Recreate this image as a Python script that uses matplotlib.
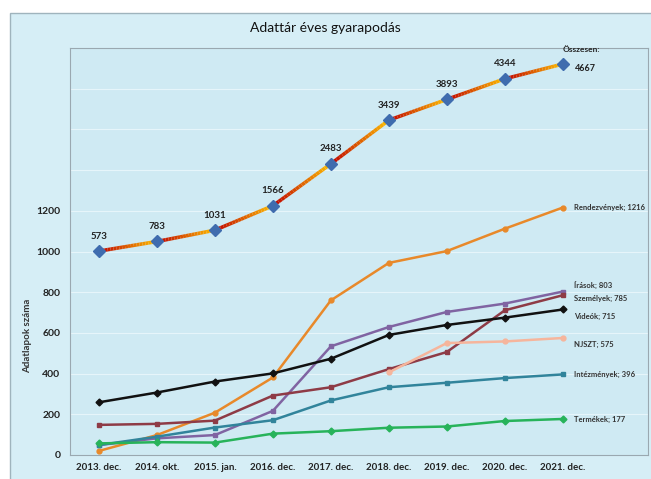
import matplotlib.pyplot as plt
import numpy as np
from matplotlib.collections import LineCollection
from matplotlib.patches import Rectangle
from matplotlib.colors import to_rgb

plt.rcParams['font.family'] = ['Lato', 'DejaVu Sans']

periods = ["2013. dec.", "2014. okt.", "2015. jan.", "2016. dec.", "2017. dec.",
           "2018. dec.", "2019. dec.", "2020. dec.", "2021. dec."]

osszesen = [573, 783, 1031, 1566, 2483, 3439, 3893, 4344, 4667]
rendezvenyek = [20, 98, 208, 381, 760, 944, 1002, 1112, 1216]
irasok = [49, 82, 98, 217, 534, 629, 703, 744, 803]
szemelyek = [148, 153, 169, 292, 333, 422, 506, 711, 785]
videok = [259, 307, 361, 401, 473, 590, 639, 675, 715]
njszt = [np.nan, np.nan, np.nan, np.nan, np.nan, 406, 550, 558, 575]
intezmenyek = [49, 90, 135, 171, 268, 333, 355, 378, 396]
termekek = [57, 63, 61, 105, 117, 134, 140, 167, 177]

series = [
    ("Rendezvények", rendezvenyek, '#e8892a', 'o'),
    ("Írások", irasok, '#8064a2', 's'),
    ("Személyek", szemelyek, '#8e3b46', 's'),
    ("Videók", videok, '#111111', 'D'),
    ("NJSZT", njszt, '#f6b59c', 'o'),
    ("Intézmények", intezmenyek, '#31849b', 's'),
    ("Termékek", termekek, '#27b35a', 'D'),
]
label_offsets = {"Írások": 5, "Személyek": -2, "Videók": -5, "NJSZT": -5}

fig = plt.figure(figsize=(6.51, 4.79), dpi=100, facecolor='white')
# outer chart area
fig.patches.append(Rectangle((10 / 651, -0.01), 1, 1 - 13 / 479 + 0.01, transform=fig.transFigure,
                             facecolor='#d6eef6', edgecolor='#9fb4bd', lw=1, zorder=-10))

ax = fig.add_axes([70 / 651, 1 - 455 / 479, 578 / 651, 407 / 479])
ax.set_facecolor('#cfeaf3')
x = np.arange(len(periods))
ax.set_xlim(-0.5, 9.47)
ax.set_ylim(0, 2000)
ax.set_yticks(range(0, 1201, 200))
ax.set_xticks(x)
ax.set_xticklabels(periods, fontsize=7, fontweight='bold', color='#222222')
ax.tick_params(axis='y', labelsize=7.5, colors='#222222', length=0, pad=7)
ax.tick_params(axis='x', length=0, pad=6)
for lab in ax.get_yticklabels():
    lab.set_fontweight('bold')
for yg in range(200, 2000, 200):
    ax.axhline(yg, color='#e6f5fa', lw=0.8, zorder=1)
for s in ax.spines.values():
    s.set_color('#9aa8b0')
ax.set_ylabel("Adatlapok száma", fontsize=7, fontweight='bold', color='#333333')
ax.yaxis.set_label_coords(-0.066, 0.292)

for name, vals, col, mk in series:
    ax.plot(x, vals, color=col, lw=1.8, marker=mk, ms=3.5, zorder=3)
    last = vals[-1]
    ax.annotate(f"{name}; {last}", (x[-1], last), xytext=(8, label_offsets.get(name, 0)),
                textcoords='offset points', fontsize=5.5, fontweight='bold',
                color='#333333', va='center')

# total on a hidden secondary scale
ax2 = ax.twinx()
ax2.set_ylim(-3890, 5018)
ax2.set_yticks([])
for s in ax2.spines.values():
    s.set_visible(False)
red = np.array(to_rgb('#c00000'))
yellow = np.array(to_rgb('#ffc000'))
segs, cols = [], []
n = 20
for i in range(len(x) - 1):
    for k in range(n):
        t0, t1 = k / n, (k + 1) / n
        p0 = (x[i] + t0, osszesen[i] + t0 * (osszesen[i + 1] - osszesen[i]))
        p1 = (x[i] + t1, osszesen[i] + t1 * (osszesen[i + 1] - osszesen[i]))
        segs.append([p0, p1])
        cols.append(red + (yellow - red) * ((t0 + t1) / 2))
ax2.add_collection(LineCollection(segs, colors=cols, linewidths=2.6, zorder=3))
ax2.plot(x, osszesen, linestyle='none', marker='D', ms=6, color='#3f6cae', zorder=4)
for xi, v in zip(x[:-1], osszesen[:-1]):
    ax2.annotate(str(v), (xi, v), xytext=(0, 9), textcoords='offset points',
                 ha='center', fontsize=7, fontweight='bold', color='#222222')
ax2.annotate(str(osszesen[-1]), (x[-1], osszesen[-1]), xytext=(9, -3), textcoords='offset points',
             ha='left', va='center', fontsize=6.5, fontweight='bold', color='#222222')
ax2.annotate("Összesen:", (x[-1], osszesen[-1]), xytext=(0, 9), textcoords='offset points',
             ha='left', fontsize=6, fontweight='bold', color='#222222')

fig.text(0.5, 1 - 28 / 479, "Adattár éves gyarapodás", ha='center', va='center',
         fontsize=10, color='#111111')

plt.savefig('out.png', dpi=100, facecolor=fig.get_facecolor())
